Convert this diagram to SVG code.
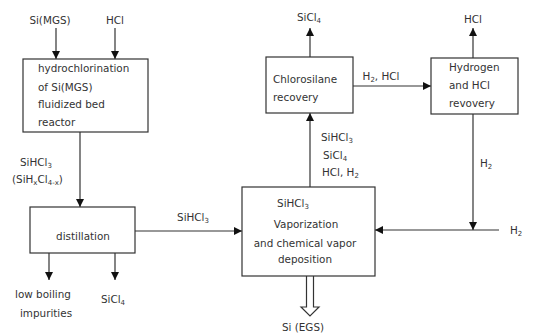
<svg xmlns="http://www.w3.org/2000/svg" width="533" height="333" viewBox="0 0 533 333">
<style>
.box{fill:#fff;stroke:#333;stroke-width:1.2}
.ln{fill:none;stroke:#333;stroke-width:1.2}
.arr{marker-end:url(#ah)}
text{font-family:"DejaVu Sans","Liberation Sans",sans-serif;font-size:10.4px;fill:#333}
.m{text-anchor:middle}
.s{font-size:7px}
</style>
<defs>
<marker id="ah" viewBox="0 0 10 10" refX="10" refY="5" markerWidth="8" markerHeight="8" markerUnits="userSpaceOnUse" orient="auto">
<path d="M0,0 L10,5 L0,10 Z" fill="#111"/>
</marker>
</defs>
<rect width="533" height="333" fill="#fff"/>
<g id="connectors">
<line class="ln arr" x1="56" y1="28" x2="56" y2="59"/>
<line class="ln arr" x1="115" y1="28" x2="115" y2="59"/>
<line class="ln arr" x1="80" y1="132" x2="80" y2="207"/>
<line class="ln arr" x1="49" y1="253" x2="49" y2="280"/>
<line class="ln arr" x1="115" y1="253" x2="115" y2="280"/>
<line class="ln arr" x1="135" y1="231" x2="242" y2="231"/>
<line class="ln arr" x1="310" y1="187" x2="310" y2="113"/>
<line class="ln arr" x1="310" y1="57" x2="310" y2="28"/>
<line class="ln arr" x1="353" y1="86" x2="431" y2="86"/>
<line class="ln arr" x1="473" y1="58" x2="473" y2="28"/>
<line class="ln arr" x1="473" y1="114" x2="473" y2="230"/>
<line class="ln arr" x1="499" y1="230" x2="375" y2="230"/>
<path class="ln" d="M306.5,276 V307 H301 L310,316 L319,307 H313.5 V276" fill="#fff"/>
</g>
<g id="hydrochlorination">
<rect class="box" x="23" y="59" width="125" height="73"/>
<text x="38" y="72">hydrochlorination</text>
<text x="38" y="91">of Si(MGS)</text>
<text x="38" y="108">fluidized bed</text>
<text x="38" y="126">reactor</text>
</g>
<g id="distillation">
<rect class="box" x="30" y="207" width="105" height="46"/>
<text class="m" x="83" y="240">distillation</text>
</g>
<g id="vaporization">
<rect class="box" x="242" y="187" width="133" height="89"/>
<text class="m" x="293" y="207">SiHCl<tspan class="s" dy="2">3</tspan></text>
<text class="m" x="306" y="228">Vaporization</text>
<text class="m" x="305" y="247">and chemical vapor</text>
<text class="m" x="305" y="263">deposition</text>
</g>
<g id="chlorosilane">
<rect class="box" x="266" y="57" width="87" height="56"/>
<text x="273" y="83">Chlorosilane</text>
<text x="273" y="101">recovery</text>
</g>
<g id="hydrogen">
<rect class="box" x="431" y="58" width="87" height="56"/>
<text x="449" y="71">Hydrogen</text>
<text x="449" y="89">and HCl</text>
<text x="449" y="107">revovery</text>
</g>
<g id="labels">
<text class="m" x="50" y="24">Si(MGS)</text>
<text class="m" x="115" y="24">HCl</text>
<text x="20" y="166">SiHCl<tspan class="s" dy="2">3</tspan></text>
<text x="12" y="183">(SiH<tspan class="s" dy="2">x</tspan><tspan dy="-2">Cl</tspan><tspan class="s" dy="2">4-x</tspan><tspan dy="-2">)</tspan></text>
<text class="m" x="43" y="298">low boiling</text>
<text class="m" x="46" y="317">impurities</text>
<text class="m" x="113" y="303">SiCl<tspan class="s" dy="2">4</tspan></text>
<text class="m" x="193" y="221">SiHCl<tspan class="s" dy="2">3</tspan></text>
<text class="m" x="309" y="21">SiCl<tspan class="s" dy="2">4</tspan></text>
<text class="m" x="473" y="23">HCl</text>
<text class="m" x="381" y="80">H<tspan class="s" dy="2">2</tspan><tspan dy="-2">, HCl</tspan></text>
<text x="321" y="141">SiHCl<tspan class="s" dy="2">3</tspan></text>
<text x="323" y="159">SiCl<tspan class="s" dy="2">4</tspan></text>
<text x="322" y="176">HCl, H<tspan class="s" dy="2">2</tspan></text>
<text x="480" y="167">H<tspan class="s" dy="2">2</tspan></text>
<text x="510" y="234">H<tspan class="s" dy="2">2</tspan></text>
<text class="m" x="303" y="331">Si (EGS)</text>
</g>
</svg>
